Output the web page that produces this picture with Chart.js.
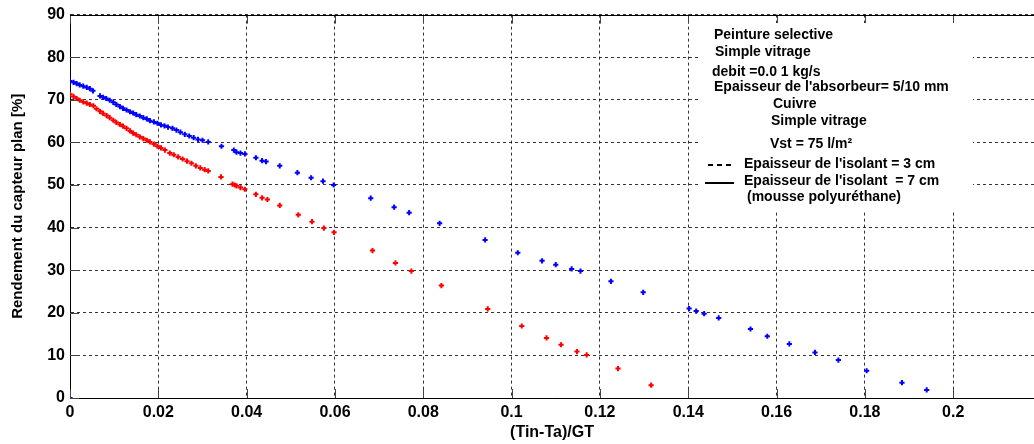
<!DOCTYPE html>
<html>
<head>
<meta charset="utf-8">
<script src="https://cdn.jsdelivr.net/npm/chart.js@4/dist/chart.umd.min.js"></script>
<style>
  html, body { margin: 0; padding: 0; background: #fff; }
  #wrap { width: 1034px; height: 444px; }
</style>
</head>
<body>
<div id="wrap"><canvas id="rendementChart"></canvas></div>
<script>
// blue series (x = (Tin-Ta)/GT, y = rendement %)
const blueX = [0, 0, 0.0008, 0.0015, 0.0022, 0.0030, 0.0038, 0.0045, 0.0052, 0.0068, 0.0075,
    0.0082, 0.0090, 0.0098, 0.0105, 0.0113, 0.0120, 0.0128, 0.0136, 0.0143, 0.0150,
    0.0158, 0.0166, 0.0174, 0.0181, 0.0190, 0.0198, 0.0206, 0.0214, 0.0222, 0.0232,
    0.0241, 0.0250, 0.0260, 0.0270, 0.0280, 0.0290, 0.0300, 0.0313,
    0.0343, 0.0371, 0.0377, 0.0386, 0.0396, 0.0421, 0.0435, 0.0444, 0.0475, 0.0515,
    0.0546, 0.0573, 0.0597, 0.0681, 0.0734, 0.0768, 0.0837, 0.0940, 0.1014, 0.1069,
    0.1100, 0.1136, 0.1156, 0.1225, 0.1298, 0.1402, 0.1418, 0.1436, 0.1469, 0.1541,
    0.1579, 0.1629, 0.1687, 0.1740, 0.1804, 0.1884, 0.1940];
const blueY = [0, 74.4, 74.1, 73.8, 73.5, 73.2, 72.9, 72.6, 72.1, 70.9, 70.6,
    70.3, 69.9, 69.4, 68.9, 68.4, 68.0, 67.6, 67.2, 66.9, 66.5,
    66.2, 65.8, 65.5, 65.1, 64.8, 64.5, 64.1, 63.9, 63.6, 63.3,
    62.9, 62.4, 61.9, 61.5, 61.1, 60.7, 60.5, 60.1,
    59.1, 58.2, 57.7, 57.5, 57.3, 56.4, 55.7, 55.5, 54.5, 52.9,
    51.7, 50.9, 50.0, 46.9, 44.8, 43.5, 41.0, 37.1, 34.1, 32.2,
    31.3, 30.3, 29.8, 27.4, 24.8, 21.0, 20.4, 19.8, 18.8, 16.2,
    14.5, 12.7, 10.7, 8.9, 6.4, 3.6, 1.9];

// red series
const redX = [0, 0.0008, 0.0015, 0.0022, 0.0030, 0.0038, 0.0045, 0.0053, 0.0060, 0.0068,
    0.0075, 0.0083, 0.0090, 0.0098, 0.0105, 0.0113, 0.0120, 0.0128, 0.0136, 0.0143,
    0.0150, 0.0158, 0.0166, 0.0174, 0.0181, 0.0190, 0.0198, 0.0206, 0.0215, 0.0226,
    0.0235, 0.0245, 0.0255, 0.0265, 0.0275, 0.0285, 0.0295, 0.0305, 0.0313,
    0.0342, 0.0368, 0.0373, 0.0377, 0.0386, 0.0396, 0.0421, 0.0435, 0.0447, 0.0475,
    0.0517, 0.0548, 0.0575, 0.0598, 0.0685, 0.0737, 0.0773, 0.0841, 0.0946, 0.1023,
    0.1079, 0.1112, 0.1148, 0.1170, 0.1241, 0.1316];
const redY = [71.3, 70.8, 70.3, 69.9, 69.5, 69.2, 68.9, 68.6, 67.9, 67.3,
    66.8, 66.3, 65.8, 65.2, 64.7, 64.2, 63.8, 63.3, 62.7, 62.2,
    61.8, 61.3, 60.9, 60.5, 60.1, 59.6, 59.1, 58.7, 58.2, 57.5,
    57.1, 56.6, 56.1, 55.6, 55.1, 54.5, 54.0, 53.6, 53.3,
    51.9, 50.2, 50.0, 49.8, 49.4, 49.0, 47.8, 47.0, 46.6, 45.2,
    43.0, 41.4, 39.9, 38.9, 34.6, 31.7, 29.8, 26.4, 20.9, 16.9,
    14.1, 12.5, 10.9, 10.1, 6.9, 3.0];

const xTickLabels = ['0', '0.02', '0.04', '0.06', '0.08', '0.1', '0.12', '0.14', '0.16', '0.18', '0.2'];
const yTickLabels = ['0', '10', '20', '30', '40', '50', '60', '70', '80', '90'];

const legendLines = [
    { text: 'Peinture selective', x: 714, y: 35 },
    { text: 'Simple vitrage', x: 715, y: 52 },
    { text: 'debit =0.0 1 kg/s', x: 712, y: 72 },
    { text: "Epaisseur de l'absorbeur= 5/10 mm", x: 714, y: 87, clip: 957 },
    { text: 'Cuivre', x: 773, y: 104 },
    { text: 'Simple vitrage', x: 771, y: 121 },
    { text: 'Vst = 75 l/m\u00b2', x: 770, y: 144 },
    { text: "Epaisseur de l'isolant = 3 cm", x: 744, y: 164 },
    { text: "Epaisseur de l'isolant  = 7 cm", x: 744, y: 181 },
    { text: '(mousse polyur\u00e9thane)', x: 747, y: 197 }
];

function toPoints(xs, ys) {
    return xs.map((x, i) => ({ x: x, y: ys[i] }));
}

const boldFont = '"Liberation Sans", Arial, sans-serif';

// inner tick marks, top border and the annotation box
const decorPlugin = {
    id: 'decor',
    afterDraw(chart) {
        const ctx = chart.ctx;
        const area = chart.chartArea;
        const xs = chart.scales.x;
        const ys = chart.scales.y;
        ctx.save();
        ctx.strokeStyle = '#444';
        ctx.lineWidth = 1;
        ctx.beginPath();
        xs.ticks.forEach(t => {
            const px = Math.round(xs.getPixelForValue(t.value)) + 0.5;
            ctx.moveTo(px, area.bottom);
            ctx.lineTo(px, area.bottom - 9);
            ctx.moveTo(px, area.top);
            ctx.lineTo(px, area.top + 9);
        });
        ys.ticks.forEach(t => {
            const py = Math.round(ys.getPixelForValue(t.value)) + 0.5;
            ctx.moveTo(area.left, py);
            ctx.lineTo(area.left + 9, py);
        });
        ctx.stroke();

        ctx.strokeStyle = '#000';
        ctx.beginPath();
        ctx.moveTo(area.left, Math.round(area.top) + 0.5);
        ctx.lineTo(area.right, Math.round(area.top) + 0.5);
        ctx.stroke();

        // annotation box
        ctx.fillStyle = '#fff';
        ctx.fillRect(700, 23, 273, 187);
        ctx.fillStyle = '#000';
        ctx.font = 'bold 14px ' + boldFont;
        ctx.textBaseline = 'middle';
        ctx.textAlign = 'left';
        legendLines.forEach(l => {
            ctx.save();
            if (l.clip) {
                ctx.beginPath();
                ctx.rect(l.x - 2, l.y - 10, l.clip - l.x + 2, 20);
                ctx.clip();
            }
            ctx.fillText(l.text, l.x, l.y);
            ctx.restore();
        });
        ctx.lineWidth = 2;
        ctx.setLineDash([5, 4]);
        ctx.beginPath();
        ctx.moveTo(708, 165);
        ctx.lineTo(734, 165);
        ctx.stroke();
        ctx.setLineDash([]);
        ctx.beginPath();
        ctx.moveTo(705, 183);
        ctx.lineTo(734, 183);
        ctx.stroke();
        ctx.restore();
    }
};

const ctx = document.getElementById('rendementChart').getContext('2d');
new Chart(ctx, {
    type: 'scatter',
    data: {
        datasets: [{
            label: 'bleu',
            data: toPoints(blueX, blueY),
            pointStyle: 'cross',
            pointRadius: 2.6,
            pointBorderWidth: 2,
            borderColor: '#0000ff',
            backgroundColor: '#0000ff'
        }, {
            label: 'rouge',
            data: toPoints(redX, redY),
            pointStyle: 'cross',
            pointRadius: 2.6,
            pointBorderWidth: 2,
            borderColor: '#ff0000',
            backgroundColor: '#ff0000'
        }]
    },
    options: {
        responsive: true,
        maintainAspectRatio: false,
        animation: false,
        layout: { autoPadding: false, padding: { top: 10, left: 0, right: 0, bottom: 0 } },
        plugins: {
            legend: { display: false },
            tooltip: { enabled: false }
        },
        scales: {
            x: {
                type: 'linear',
                min: 0,
                max: 0.2183,
                afterFit: s => { s.height = 46; },
                grid: { color: 'rgba(0,0,0,0.8)', lineWidth: 1, drawTicks: false },
                border: { display: true, color: '#000', width: 1, dash: [3, 3] },
                ticks: {
                    stepSize: 0.02,
                    includeBounds: false,
                    padding: 5,
                    color: '#000',
                    font: { family: boldFont, size: 16, weight: 'bold' },
                    maxRotation: 0,
                    autoSkip: false,
                    callback: (v, i) => xTickLabels[i]
                },
                title: {
                    display: true,
                    text: '(Tin-Ta)/GT',
                    color: '#000',
                    font: { family: boldFont, size: 16, weight: 'bold' },
                    padding: { top: 0, bottom: 2 }
                }
            },
            y: {
                min: 0,
                max: 90,
                afterFit: s => { s.width = 70; },
                grid: { color: 'rgba(0,0,0,0.8)', lineWidth: 1, drawTicks: false },
                border: { display: true, color: '#000', width: 1, dash: [3, 3] },
                ticks: {
                    stepSize: 10,
                    padding: 5,
                    color: '#000',
                    font: { family: boldFont, size: 16, weight: 'bold' },
                    callback: (v, i) => yTickLabels[i]
                },
                title: {
                    display: true,
                    text: 'Rendement du capteur plan [%]',
                    color: '#000',
                    font: { family: boldFont, size: 15, weight: 'bold' },
                    padding: { top: 9, bottom: 0 }
                }
            }
        }
    },
    plugins: [decorPlugin]
});
</script>
</body>
</html>
